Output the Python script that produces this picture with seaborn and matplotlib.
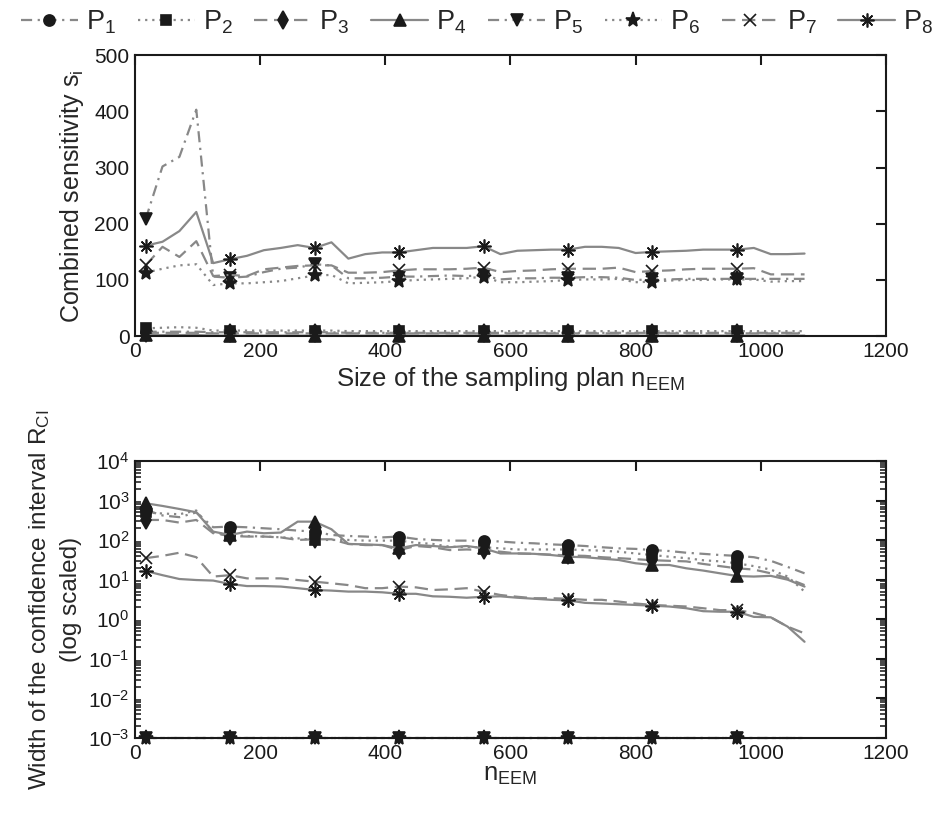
import numpy as np
import pandas as pd
import matplotlib
matplotlib.use("Agg")
import matplotlib.pyplot as plt
import seaborn as sns
from matplotlib.ticker import LogLocator, NullFormatter

sns.set_theme(style="white")
plt.rcParams['font.family'] = ['Liberation Sans', 'DejaVu Sans']
plt.rcParams['mathtext.fontset'] = 'custom'
plt.rcParams['mathtext.rm'] = 'Liberation Sans'
plt.rcParams['mathtext.it'] = 'Liberation Sans:italic'

# sample sizes n_EEM
n_eem = [17, 44, 71, 98, 125, 152, 179, 206, 233, 260,
         287, 314, 341, 368, 395, 422, 449, 476, 503, 530,
         557, 584, 611, 638, 665, 692, 719, 746, 773, 800,
         827, 854, 881, 908, 935, 962, 989, 1016, 1043, 1070]

series_names = ["P$_1$", "P$_2$", "P$_3$", "P$_4$", "P$_5$", "P$_6$", "P$_7$", "P$_8$"]

# ---- combined sensitivity s_i (top) ----
s_p1 = [8, 8, 8, 8, 7, 7, 7, 7, 7, 7, 7, 7, 6, 6, 6, 6, 6, 6, 6, 6,
        6, 6, 6, 6, 6, 6, 6, 6, 6, 6, 6, 6, 6, 6, 6, 6, 6, 6, 6, 6]
s_p2 = [14, 15, 16, 15, 10, 10, 10, 10, 10, 10, 10, 10, 9, 9, 9, 9, 9, 9, 9, 9,
        9, 9, 9, 9, 9, 9, 9, 9, 9, 9, 9, 9, 9, 9, 9, 9, 9, 9, 9, 9]
s_p3 = [6, 6, 6, 6, 5, 5, 5, 5, 5, 5, 5, 5, 5, 5, 5, 5, 5, 5, 5, 5,
        5, 5, 5, 5, 5, 5, 5, 5, 5, 5, 5, 5, 5, 5, 5, 5, 5, 5, 5, 5]
s_p4 = [2, 2, 2, 2, 1, 1, 1, 1, 1, 1, 1, 1, 1, 1, 1, 1, 1, 1, 1, 1,
        1, 1, 1, 1, 1, 1, 1, 1, 1, 1, 1, 1, 1, 1, 1, 1, 1, 1, 1, 1]
s_p5 = [208, 302, 319, 403, 106, 104, 106, 114, 120, 122, 128, 126, 103, 103, 104, 106, 106, 107, 108, 107,
        108, 101, 103, 103, 104, 104, 105, 105, 104, 100, 101, 101, 102, 102, 102, 102, 102, 102, 102, 102]
s_p6 = [113, 120, 126, 128, 91, 94, 94, 96, 98, 103, 108, 109, 94, 95, 96, 98, 100, 101, 102, 103,
        106, 96, 96, 97, 98, 100, 101, 101, 102, 96, 97, 99, 100, 100, 101, 101, 101, 97, 98, 98]
s_p7 = [126, 159, 141, 169, 107, 109, 107, 119, 122, 125, 126, 126, 113, 113, 114, 117, 119, 119, 119, 120,
        122, 114, 116, 117, 119, 120, 120, 120, 122, 114, 116, 117, 119, 120, 120, 120, 121, 110, 110, 110]
s_p8 = [161, 168, 187, 221, 130, 137, 143, 153, 157, 162, 157, 167, 138, 146, 149, 149, 153, 157, 157, 157,
        160, 146, 152, 153, 154, 154, 159, 159, 157, 148, 150, 151, 152, 154, 154, 154, 157, 146, 146, 147]

# ---- width of the confidence interval R_CI (bottom) ----
r_p1 = [578, 420, 380, 500, 211, 219, 211, 199, 188, 174, 164, 135, 127, 123, 117, 123, 107, 101, 97, 97,
        97, 92, 86, 83, 78, 75, 71, 66, 62, 60, 56, 53, 48, 45, 42, 40, 37, 30, 21, 14.5]
r_p2 = [500, 470, 450, 560, 155, 135, 127, 123, 118, 111, 101, 101, 101, 97, 97, 97, 86, 80, 68, 67,
        66, 62, 58, 58, 58, 58, 56, 54, 51, 46, 42, 38, 35, 31, 29, 26, 22, 18, 12, 5]
r_p3 = [323, 323, 277, 323, 149, 127, 123, 123, 117, 101, 105, 105, 80, 75, 75, 56, 71, 66, 56, 58,
        56, 51, 46, 45, 43, 41, 40, 37, 35, 33, 31, 30, 29, 25, 22, 19.4, 18, 14.5, 10.8, 7.3]
r_p4 = [853, 730, 612, 505, 164, 135, 164, 149, 155, 293, 293, 188, 80, 78, 75, 62, 75, 71, 66, 71,
        62, 46, 46, 45, 42, 38, 37, 34, 31.5, 26, 23.5, 23.5, 19.4, 17, 14.5, 12.4, 12, 12.5, 10, 6.7]
r_p5 = [0.001] * 40
r_p6 = [0.001] * 40
r_p7 = [35, 40, 48, 37, 12, 13, 10.8, 10.8, 10.8, 9.8, 8.9, 8.1, 7.3, 6.1, 6.1, 6.7, 6.4, 5.5, 5.7, 6.1,
        5.0, 4.1, 3.7, 3.4, 3.4, 3.3, 3.1, 3.1, 2.8, 2.5, 2.3, 2.2, 2.1, 1.9, 1.7, 1.7, 1.45, 1.12, 0.65, 0.44]
r_p8 = [16.6, 13, 10.4, 9.8, 9.5, 7.8, 6.9, 6.9, 6.7, 6.1, 5.5, 5.3, 5.0, 5.0, 4.8, 4.4, 4.4, 3.8, 3.7, 3.5,
        3.7, 3.8, 3.5, 3.3, 3.1, 3.0, 2.6, 2.5, 2.4, 2.3, 2.2, 2.1, 1.9, 1.6, 1.55, 1.55, 1.15, 1.12, 0.65, 0.27]

top_vals = [s_p1, s_p2, s_p3, s_p4, s_p5, s_p6, s_p7, s_p8]
bot_vals = [r_p1, r_p2, r_p3, r_p4, r_p5, r_p6, r_p7, r_p8]

dashdot = (0, (5, 2.5, 1, 2.5))
dotted = (0, (1, 2.2))
dashed = (0, (6, 3))
linestyles = [dashdot, dotted, dashed, '-', dashdot, dotted, dashed, '-']
markers = ['o', 's', 'd', '^', 'v', '*', 'x', (8, 2, 0)]
msizes = [8, 7, 9, 9, 9, 11, 8, 10]
gray = '#888888'

fig = plt.figure(figsize=(9.34, 8.16), dpi=100)
ax1 = fig.add_axes([0.1445, 0.588, 0.804, 0.3444])
ax2 = fig.add_axes([0.1445, 0.0956, 0.804, 0.3395])

def draw(ax, vals_list):
    for i, vals in enumerate(vals_list):
        df = pd.DataFrame({"n": n_eem, "v": vals})
        sns.lineplot(data=df, x="n", y="v", ax=ax, color=gray, linestyle=linestyles[i],
                     linewidth=1.6, marker=markers[i], markevery=5, markersize=msizes[i],
                     markerfacecolor='k', markeredgecolor='k', markeredgewidth=1.2,
                     clip_on=False, legend=False, label=series_names[i], errorbar=None)

draw(ax1, top_vals)
draw(ax2, bot_vals)

for ax in (ax1, ax2):
    ax.set_xlim(0, 1200)
    ax.set_xticks([0, 200, 400, 600, 800, 1000, 1200])
    for sp in ax.spines.values():
        sp.set_color('k')
        sp.set_linewidth(1.5)
    ax.tick_params(axis='both', which='major', direction='in', length=7, width=1.5,
                   top=True, right=True, labelsize=15, colors='k', pad=4)
    ax.tick_params(axis='both', which='minor', direction='in', length=4, width=1.2,
                   top=False, right=True, left=True)

ax1.set_ylim(0, 500)
ax1.set_yticks([0, 100, 200, 300, 400, 500])
ax1.set_xlabel("Size of the sampling plan n$_{\\mathrm{EEM}}$", fontsize=18.5, labelpad=3)
ax1.set_ylabel("Combined sensitivity s$_{\\mathrm{i}}$", fontsize=18, labelpad=6)

ax2.set_yscale('log')
ax2.set_ylim(1e-3, 1e4)
ax2.yaxis.set_major_locator(LogLocator(base=10, numticks=20))
ax2.yaxis.set_minor_locator(LogLocator(base=10, subs=np.arange(2, 10), numticks=20))
ax2.yaxis.set_minor_formatter(NullFormatter())
ax2.set_xlabel("n$_{\\mathrm{EEM}}$", fontsize=18.5, labelpad=0)
ax2.set_ylabel("Width of the confidence interval R$_{\\mathrm{CI}}$\n(log scaled)",
               fontsize=17.5, labelpad=4, linespacing=1.5)

handles, labels = ax1.get_legend_handles_labels()
fig.legend(handles, labels, loc='upper center', bbox_to_anchor=(0.511, 1.01), ncol=8,
           frameon=False, fontsize=19.5, handlelength=2.1, handletextpad=0.3,
           columnspacing=0.8, borderaxespad=0.2)

fig.savefig("out.png", dpi=100)
